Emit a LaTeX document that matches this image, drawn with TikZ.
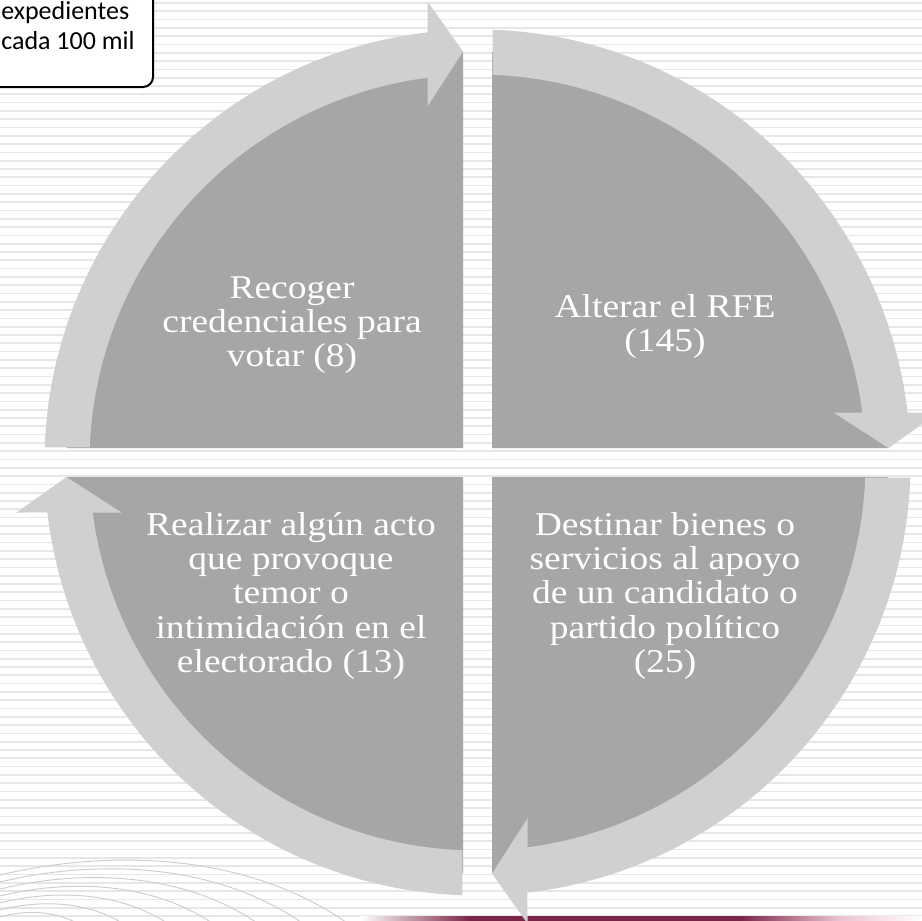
\documentclass[tikz,border=0pt]{standalone}
\usepackage{fontspec}
\setmainfont{Liberation Serif}
\newfontfamily\camfont[FakeStretch=1.13]{Liberation Serif}
\newfontfamily\calfont{Carlito}
\definecolor{sectorc}{RGB}{166,166,166}
\definecolor{ringc}{RGB}{208,208,208}
\definecolor{stripec}{RGB}{231,231,231}
\definecolor{maroonc}{RGB}{122,38,72}
\definecolor{pinkc}{RGB}{236,196,212}
\definecolor{curvec}{RGB}{205,205,205}
\tikzset{
  lbl/.style={text=white, inner sep=0pt, anchor=base,
    font={\camfont\fontsize{24.9pt}{25.8pt}\selectfont}},
  sectorbox/.style={fill=sectorc},
  ringbox/.style={fill=ringc},
}
\begin{document}
\begin{tikzpicture}[x=0.75pt,y=-0.75pt]
\useasboundingbox (0,0) rectangle (922,921);
\clip (0,0) rectangle (922,921);
\fill[white] (0,0) rectangle (922,921);
% background stripes
\foreach \k in {0,...,111} \draw[stripec, line width=1.3pt] (0,{3+8.3*\k}) -- (922,{3+8.3*\k});
% decorative curves bottom left
\foreach \i in {0,...,6} {
  \pgfmathsetmacro\xe{350-45*\i}
  \draw[curvec, line width=0.7pt] (0,{875+7*\i}) .. controls ({0.3*\xe},{850+10*\i}) and ({0.7*\xe},{850+10*\i}) .. (\xe,925);
}
% maroon bottom line
\shade[left color=white, right color=maroonc] (360,916) rectangle (470,922);
\fill[maroonc] (470,916) rectangle (740,922);
\shade[left color=maroonc, right color=pinkc] (740,916) rectangle (840,922);
\shade[left color=pinkc, right color=white] (840,916) rectangle (922,922);
% sectors and ring
\begin{scope}[shift={(477.5,462.5)}, x=0.75pt, y=0.75pt]
  \foreach \r in {0,-90,-180,-270} {
    \begin{scope}[rotate=\r]
      \fill[sectorbox] (-14.5,14.5) -- ++(180:396) arc[start angle=180, end angle=90, radius=396] -- cycle;
    \end{scope}
  }
  \foreach \r in {0,-90,-180,-270} {
    \begin{scope}[rotate=\r]
      \fill[ringbox] (178.01:433) arc[start angle=178.01, end angle=96.63, radius=433]
        -- (-50,461) -- (-14.5,411) -- (-50,356) -- (-50,384.8)
        arc[start angle=97.40, end angle=177.78, radius=388] -- cycle;
    \end{scope}
  }
\end{scope}
% labels
\node[lbl] (tl) at (292,298) {\begin{tabular}[t]{@{}c@{}}Recoger\\credenciales para\\votar (8)\end{tabular}};
\node[lbl] (tr) at (665,317) {\begin{tabular}[t]{@{}c@{}}Alterar el RFE\\(145)\end{tabular}};
\node[lbl] (bl) at (291,535) {\begin{tabular}[t]{@{}c@{}}Realizar algún acto\\que provoque\\temor o\\intimidación en el\\electorado (13)\end{tabular}};
\node[lbl] (br) at (665,535) {\begin{tabular}[t]{@{}c@{}}Destinar bienes o\\servicios al apoyo\\de un candidato o\\partido político\\(25)\end{tabular}};
% note box top left
\draw[line width=1.5pt, rounded corners=7.5pt, fill=white] (-40,-40) rectangle (153,87);
\node[anchor=base west, inner sep=0pt, font={\calfont\fontsize{19.5pt}{22.5pt}\selectfont}] (note) at (1,19)
  {\begin{tabular}[t]{@{}l@{}}expedientes\\cada 100 mil\end{tabular}};
\end{tikzpicture}
\end{document}
